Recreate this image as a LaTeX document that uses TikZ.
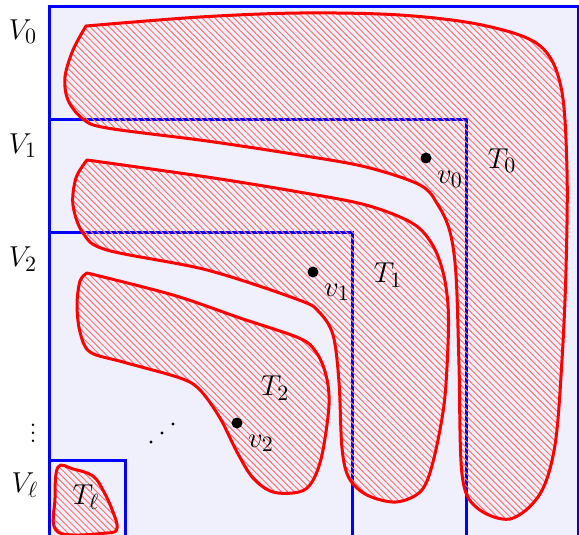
\documentclass[tikz,border=0pt]{standalone}
\usetikzlibrary{patterns.meta}
\definecolor{bgl}{RGB}{240,240,252}
\definecolor{hatch}{RGB}{255,115,115}
\tikzset{
  region/.style={draw=red, line width=1.5pt, line join=round,
    pattern={Lines[angle=-45,distance=2.25pt,line width=0.5pt]}, pattern color=hatch},
  vbox/.style={draw=blue, line width=1.5pt},
  lbl/.style={inner sep=0pt, font=\fontsize{15}{17}\selectfont},
  vdot/.style={circle, fill=black, inner sep=0pt, minimum size=5.5pt},
  sdot/.style={circle, fill=black, inner sep=0pt, minimum size=1.6pt}
}
\begin{document}
\begin{tikzpicture}[x=0.5pt,y=-0.5pt]
\useasboundingbox (0,0) rectangle (579,535);
% background
\fill[bgl] (49,7) rectangle (578,545);
% blue squares
\draw[vbox] (49,545) -- (49,7) -- (578,7) -- (578,545);
\draw[vbox] (49,120) -- (466,120) -- (466,545);
\draw[vbox] (49,233) -- (352,233) -- (352,545);
\draw[vbox] (49,460) -- (125,460) -- (125,545);
% T0
\draw[region] plot[smooth, tension=0.55] coordinates {(86,26) (200,17) (300,13) (400,15) (482,25) (539,45) (561,87) (567,170) (566,270) (562,360) (555,445) (540,494) (510,519) (476,507) (462,474) (459,365) (456,275) (450,232) (438,205) (420,185) (366,167) (299,155) (207,141) (107,128) (83,119) (68,100) (65,77) (73,50) (86,26)} -- cycle;
% T1
\draw[region] plot[smooth, tension=0.55] coordinates {(87,160) (207,177) (299,192) (366,205) (412,223) (432,244) (443,272) (448,305) (448,345) (444,405) (433,462) (421,491) (396,502) (367,495) (349,478) (342,448) (339,382) (333,335) (319,312) (299,300) (207,270) (107,250) (83,233) (73,205) (76,178) (87,160)} -- cycle;
% T2
\draw[region] plot[smooth, tension=0.55] coordinates {(87,273) (173,295) (240,318) (299,338) (316,352) (326,375) (329,405) (322,455) (312,482) (299,492) (273,492) (253,478) (237,452) (220,418) (200,390) (180,378) (123,362) (90,352) (80,332) (77,305) (80,281) (87,273)} -- cycle;
% T_ell
\draw[region] plot[smooth cycle, tension=0.6] coordinates {(58,467) (73,469) (93,476) (104,492) (113,512) (117,528) (107,533) (58,532) (55,498)};
% vertices
\node[vdot] (v0) at (426,158) {};
\node[vdot] (v1) at (313,272) {};
\node[vdot] (v2) at (237,423) {};
\node[lbl] (lv0) at (450,179) {$v_0$};
\node[lbl] (lv1) at (337,292) {$v_1$};
\node[lbl] (lv2) at (261,443) {$v_2$};
% region labels
\node[lbl] (t0) at (502,161) {$T_0$};
\node[lbl] (t1) at (388,275) {$T_1$};
\node[lbl] (t2) at (275,388) {$T_2$};
\node[lbl] (tl) at (86,497) {$T_\ell$};
% side labels
\node[lbl] (V0) at (23,32) {$V_0$};
\node[lbl] (V1) at (23,146) {$V_1$};
\node[lbl] (V2) at (23,259) {$V_2$};
\node[lbl] (vd) at (33,427) {$\vdots$};
\node[lbl] (Vl) at (25,485) {$V_\ell$};
% diagonal dots
\node[sdot] (d1) at (151,442) {};
\node[sdot] (d2) at (162,433) {};
\node[sdot] (d3) at (173,424) {};
\end{tikzpicture}
\end{document}
